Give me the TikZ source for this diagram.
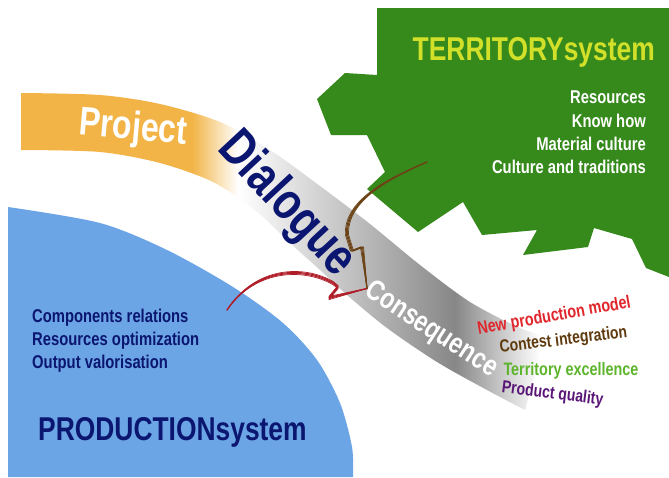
\documentclass[tikz,border=0pt]{standalone}
\usepackage{fontspec}
\setmainfont{Liberation Sans}
\newfontfamily\narrow[FakeStretch=0.8]{Liberation Sans}
\definecolor{prodblue}{HTML}{6CA5E5}
\definecolor{terrgreen}{HTML}{368A1C}
\definecolor{projorange}{HTML}{F2B447}
\definecolor{navy}{HTML}{0B1670}
\definecolor{lime}{HTML}{D2E02A}
\definecolor{modelred}{HTML}{E0262C}
\definecolor{contbrown}{HTML}{5E3A0E}
\definecolor{exgreen}{HTML}{5DB52C}
\definecolor{qualpurple}{HTML}{5A1677}
\definecolor{arrowred}{HTML}{B01E2A}
\definecolor{arrowbrown}{HTML}{6B4316}
\newcommand{\fs}[1]{\fontsize{#1}{#1}\selectfont}
\begin{document}
\begin{tikzpicture}[x=1pt,y=-1pt,
  every node/.style={inner sep=0pt},
  word/.style={font=\narrow\bfseries\fs{#1}},
  item/.style={font=\narrow\bfseries\fs{18.5}},
  brush/.style={line width=0.8pt,line cap=round,line join=round}]

\useasboundingbox (0,0) rectangle (669,477);
\fill[white] (0,0) rectangle (669,477);

\fill[prodblue] plot[smooth] coordinates {(8,207) (100,223) (167,250) (233,287) (283,323) (317,360) (340,403) (352,447) (353,477)} -- (8,477) -- cycle;

\fill[terrgreen] (377,8) -- (669,8) -- (669,277) -- (646,268) -- (632,239) -- (594,228) -- (588,247) -- (523,255) -- (537,230) -- (482,235) -- (463,202) -- (418,232) -- (367,189) -- (385,172) -- (367,135) -- (331,135) -- (317,99) -- (345,73) -- (377,75) -- cycle;

\begin{scope}
\clip plot[smooth] coordinates {(21,93) (100,95) (160,104) (220,122) (270,150) (320,186) (370,224) (420,265) (470,302) (520,328) (545,336)}
  -- plot[smooth] coordinates {(525,410) (487,390) (437,362) (387,328) (347,295) (320,270) (290,243) (255,210) (213,182) (160,163) (100,152) (21,150)} -- cycle;
\fill[projorange] (0,0) rectangle (192,477);
\shade[left color=projorange,right color=white] (192,0) rectangle (238,477);
\shade[left color=white,right color=black!47] (238,0) rectangle (455,477);
\shade[left color=black!47,right color=white] (455,0) rectangle (540,477);
\end{scope}

\node[word=40,white,rotate=-5] (project) at (133,129) {Project};
\node[word=52,navy,rotate=-47] (dialogue) at (286,205) {Dialogue};
\node[word=29,white,rotate=-33] (consequence) at (431,330) {Consequence};

\coordinate (redtip) at (227,310);
\coordinate (brownfrom) at (427,162);

\foreach \s/\w in {-1.6/0.7,-0.5/1.1,0.6/1.1,1.6/0.7} {
\path [draw,brush,arrowred,line width=\w pt,yshift=\s pt]
    (consequence.west) -- (329,298) -- (338,287) -- (333,283)
    .. controls (303,266) and (255,268) .. (redtip);
\path [draw,brush,arrowbrown,line width=\w pt,xshift=\s pt]
    (brownfrom) .. controls (390,178) and (345,200) .. (347,235)
    -- (352,251) -- (362,247) -- (consequence.west);
}

\node[anchor=base east,lime,word=33] (territory) at (655,60) {TERRITORYsystem};
\node[item,white,anchor=base east] (resources) at (646,103) {Resources};
\node[item,white,anchor=base east] (knowhow) at (646,127) {Know how};
\node[item,white,anchor=base east] (material) at (646,150) {Material culture};
\node[item,white,anchor=base east] (traditions) at (646,173) {Culture and traditions};

\node[word=18.5,navy,anchor=base west] (relations) at (32,322) {Components relations};
\node[word=18.5,navy,anchor=base west] (optimization) at (32,345) {Resources optimization};
\node[word=18.5,navy,anchor=base west] (valorisation) at (32,368) {Output valorisation};
\node[word=33,navy,anchor=base west] (production) at (38,440) {PRODUCTIONsystem};

\node[word=18,modelred,anchor=base,rotate=10] (model) at (555,321) {New production model};
\node[word=17.5,contbrown,anchor=base,rotate=7] (contest) at (564,345) {Contest integration};
\node[word=18,exgreen,anchor=base] (excellence) at (571,375) {Territory excellence};
\node[word=17.5,qualpurple,anchor=base,rotate=-7] (quality) at (552,399) {Product quality};

\end{tikzpicture}
\end{document}
